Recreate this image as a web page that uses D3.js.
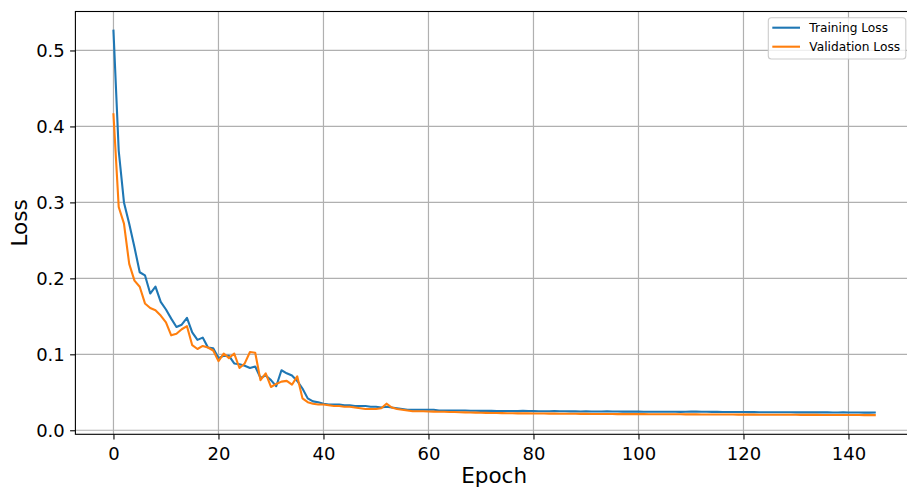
<!DOCTYPE html>
<html>
<head>
<meta charset="utf-8">
<script src="https://d3js.org/d3.v7.min.js"></script>
<style>
  body { margin: 0; background: #fff; }
  text { font-family: "DejaVu Sans", sans-serif; }
</style>
</head>
<body>
<div id="plot"></div>
<script>
// loss values per epoch
const trainLoss = [
  0.526, 0.368, 0.300, 0.272, 0.241, 0.208, 0.204, 0.180, 0.189, 0.169,
  0.159, 0.147, 0.136, 0.139, 0.148, 0.129, 0.119, 0.122, 0.109, 0.108,
  0.095, 0.098, 0.098, 0.088, 0.087, 0.085, 0.082, 0.084, 0.069, 0.072,
  0.066, 0.058, 0.079, 0.075, 0.072, 0.065, 0.055, 0.042, 0.038, 0.037,
  0.035, 0.034, 0.034, 0.034, 0.033, 0.033, 0.032, 0.032, 0.032, 0.031,
  0.031, 0.030, 0.031, 0.030, 0.029, 0.028, 0.027, 0.027, 0.027, 0.027,
  0.027, 0.027, 0.026, 0.026, 0.026, 0.026, 0.026, 0.026, 0.0258, 0.0258,
  0.0256, 0.0257, 0.0255, 0.0254, 0.0254, 0.0253, 0.0253, 0.0252, 0.0255, 0.0254,
  0.0252, 0.0251, 0.0251, 0.0250, 0.0252, 0.0251, 0.0250, 0.0249, 0.0249, 0.0248,
  0.0249, 0.0248, 0.0247, 0.0248, 0.0249, 0.0247, 0.0247, 0.0246, 0.0246, 0.0245,
  0.0246, 0.0244, 0.0244, 0.0244, 0.0243, 0.0243, 0.0244, 0.0243, 0.0242, 0.0243,
  0.0245, 0.0247, 0.0244, 0.0243, 0.0242, 0.0242, 0.0241, 0.0241, 0.0240, 0.0240,
  0.0240, 0.0239, 0.0239, 0.0238, 0.0238, 0.0238, 0.0237, 0.0237, 0.0238, 0.0237,
  0.0236, 0.0236, 0.0236, 0.0237, 0.0236, 0.0235, 0.0235, 0.0234, 0.0234, 0.0235,
  0.0234, 0.0234, 0.0233, 0.0233, 0.0232, 0.0233
];

const valLoss = [
  0.416, 0.294, 0.272, 0.219, 0.197, 0.189, 0.167, 0.161, 0.158, 0.151,
  0.142, 0.125, 0.127, 0.133, 0.137, 0.112, 0.107, 0.111, 0.109, 0.105,
  0.091, 0.101, 0.095, 0.101, 0.082, 0.088, 0.103, 0.102, 0.066, 0.075,
  0.057, 0.061, 0.064, 0.065, 0.060, 0.071, 0.042, 0.037, 0.035, 0.034,
  0.034, 0.033, 0.032, 0.032, 0.031, 0.031, 0.030, 0.029, 0.028, 0.028,
  0.028, 0.029, 0.035, 0.030, 0.028, 0.027, 0.026, 0.025, 0.025, 0.025,
  0.0248, 0.0246, 0.0244, 0.0243, 0.0241, 0.0240, 0.0238, 0.0236, 0.0234, 0.0232,
  0.0230, 0.0229, 0.0228, 0.0227, 0.0226, 0.0225, 0.0224, 0.0223, 0.0223, 0.0222,
  0.0221, 0.0220, 0.0220, 0.0219, 0.0219, 0.0218, 0.0218, 0.0217, 0.0217, 0.0216,
  0.0216, 0.0215, 0.0215, 0.0215, 0.0214, 0.0214, 0.0213, 0.0213, 0.0213, 0.0212,
  0.0212, 0.0212, 0.0211, 0.0211, 0.0211, 0.0210, 0.0210, 0.0210, 0.0210, 0.0209,
  0.0209, 0.0209, 0.0208, 0.0208, 0.0208, 0.0208, 0.0207, 0.0207, 0.0207, 0.0206,
  0.0206, 0.0206, 0.0206, 0.0205, 0.0205, 0.0205, 0.0205, 0.0204, 0.0204, 0.0204,
  0.0204, 0.0203, 0.0203, 0.0203, 0.0203, 0.0202, 0.0202, 0.0202, 0.0202, 0.0201,
  0.0201, 0.0201, 0.0201, 0.0200, 0.0200, 0.0200
];

const epochs = trainLoss.map((d, i) => i);
const xTicks = [0, 20, 40, 60, 80, 100, 120, 140];
const yTicks = [0.0, 0.1, 0.2, 0.3, 0.4, 0.5];
const seriesNames = ["Training Loss", "Validation Loss"];
const seriesColors = ["#1f77b4", "#ff7f0e"];

// dimensions (the right spine sits just past the window, as in the original)
const w = 907;
const h = 488;
const plot = {left: 75.4, right: 912.8, top: 11.5, bottom: 434.3};

var svg = d3.select("div#plot")
  .append("svg")
    .attr("width", w)
    .attr("height", h);

// scales with matplotlib style 5% padding
var xPad = (d3.max(epochs) - d3.min(epochs)) * 0.05;
var xScale = d3.scaleLinear()
  .domain([d3.min(epochs) - xPad, d3.max(epochs) + xPad])
  .range([plot.left, plot.right]);

var allLoss = trainLoss.concat(valLoss);
var yPad = (d3.max(allLoss) - d3.min(allLoss)) * 0.05;
var yScale = d3.scaleLinear()
  .domain([d3.min(allLoss) - yPad, d3.max(allLoss) + yPad])
  .range([plot.bottom, plot.top]);

// grid
svg.append("g")
  .selectAll("line")
  .data(xTicks)
  .enter().append("line")
    .attr("x1", d => xScale(d)).attr("x2", d => xScale(d))
    .attr("y1", plot.top).attr("y2", plot.bottom)
    .style("stroke", "#b0b0b0")
    .style("stroke-width", 1.2);

svg.append("g")
  .selectAll("line")
  .data(yTicks)
  .enter().append("line")
    .attr("x1", plot.left).attr("x2", plot.right)
    .attr("y1", d => yScale(d)).attr("y2", d => yScale(d))
    .style("stroke", "#b0b0b0")
    .style("stroke-width", 1.2);

// axes
var xAxis = svg.append("g")
  .attr("transform", `translate(0, ${plot.bottom})`)
  .call(d3.axisBottom(xScale).tickValues(xTicks).tickFormat(d3.format("d"))
    .tickSize(5.3).tickPadding(7).tickSizeOuter(0));

var yAxis = svg.append("g")
  .attr("transform", `translate(${plot.left}, 0)`)
  .call(d3.axisLeft(yScale).tickValues(yTicks).tickFormat(d3.format(".1f"))
    .tickSize(5.3).tickPadding(5.3).tickSizeOuter(0));

[xAxis, yAxis].forEach(function(a) {
  a.select(".domain").remove();
  a.selectAll(".tick line").style("stroke", "#000").style("stroke-width", 1.1);
  a.selectAll(".tick text")
    .style("font-size", "18px")
    .style("font-family", "DejaVu Sans")
    .style("fill", "#000");
});
yAxis.selectAll(".tick text").attr("dy", "0.36em");
xAxis.selectAll(".tick text").attr("dy", "0.75em");

// spines
svg.append("rect")
  .attr("x", plot.left)
  .attr("y", plot.top)
  .attr("width", plot.right - plot.left)
  .attr("height", plot.bottom - plot.top)
  .style("fill", "none")
  .style("stroke", "#000")
  .style("stroke-width", 1.1);

// lines
var line = d3.line()
  .x((d, i) => xScale(epochs[i]))
  .y(d => yScale(d));

[trainLoss, valLoss].forEach(function(series, k) {
  svg.append("path")
    .datum(series)
    .attr("d", line)
    .style("fill", "none")
    .style("stroke", seriesColors[k])
    .style("stroke-width", 2.1)
    .style("stroke-linejoin", "round")
    .style("stroke-linecap", "square");
});

// axis labels
svg.append("text")
  .attr("text-anchor", "middle")
  .attr("x", (plot.left + plot.right) / 2)
  .attr("y", 483.3)
  .style("font-size", "21.5px")
  .text("Epoch");

svg.append("text")
  .attr("text-anchor", "middle")
  .attr("transform", `translate(26.7, ${(plot.top + plot.bottom) / 2}) rotate(-90)`)
  .style("font-size", "21.5px")
  .text("Loss");

// legend
var legend = svg.append("g");
legend.append("rect")
  .attr("x", 768.3)
  .attr("y", 17.7)
  .attr("width", 137.5)
  .attr("height", 41.3)
  .attr("rx", 3)
  .style("fill", "rgba(255,255,255,0.8)")
  .style("stroke", "#cccccc")
  .style("stroke-width", 1.1);

seriesNames.forEach(function(name, k) {
  var ly = 27.7 + k * 19;
  legend.append("line")
    .attr("x1", 772.3).attr("x2", 800)
    .attr("y1", ly).attr("y2", ly)
    .style("stroke", seriesColors[k])
    .style("stroke-width", 2.1);
  legend.append("text")
    .attr("x", 809.3)
    .attr("y", ly + 4.4)
    .style("font-size", "12.2px")
    .text(name);
});
</script>
</body>
</html>
